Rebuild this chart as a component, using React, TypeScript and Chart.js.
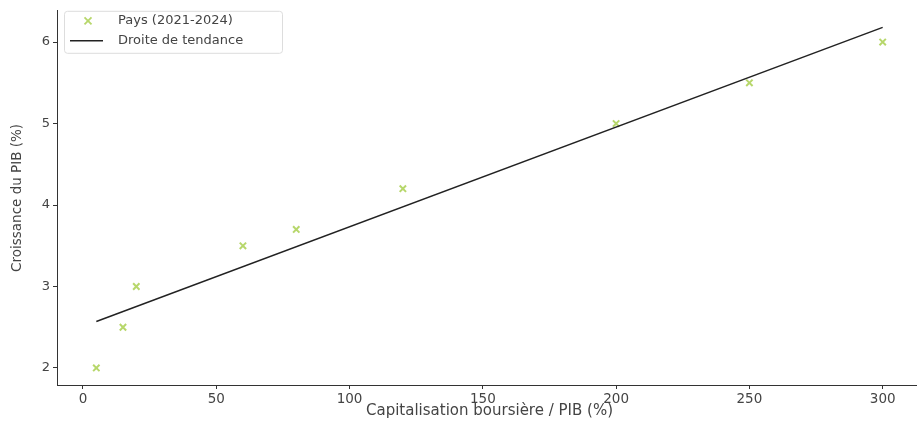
import React, { useEffect, useRef } from 'react';
import { Chart, registerables } from 'chart.js';

Chart.register(...registerables);

// ---- data ----
const pointsX = [5, 15, 20, 60, 80, 120, 200, 250, 300];
const pointsY = [2.0, 2.5, 3.0, 3.5, 3.7, 4.2, 5.0, 5.5, 6.0];
const trendX = [5, 300];
const trendY = [2.57, 6.18];
const xTicks = [0, 50, 100, 150, 200, 250, 300];
const yTicks = [2, 3, 4, 5, 6];
const seriesLabels = ['Pays (2021-2024)', 'Droite de tendance'];
const xTitle = 'Capitalisation boursière / PIB (%)';
const yTitle = 'Croissance du PIB (%)';

const FONT = "'DejaVu Sans', sans-serif";
const MARKER = 'rgba(165, 205, 70, 0.8)';
const LINE = '#222222';
const TEXT = '#444444';
const SPINE = '#333333';

const legendPlugin = {
  id: 'mplLegend',
  afterDraw(chart: any) {
    const { ctx, chartArea } = chart;
    const ds = chart.data.datasets;
    const x0 = chartArea.left + 7;
    const y0 = chartArea.top + 0;
    const w = 218;
    const h = 42;
    ctx.save();
    ctx.beginPath();
    ctx.roundRect(x0 + 0.5, y0 + 0.5, w, h, 3);
    ctx.fillStyle = 'rgba(255,255,255,0.8)';
    ctx.fill();
    ctx.strokeStyle = '#dddddd';
    ctx.lineWidth = 1;
    ctx.stroke();

    // row 1 : marker
    const r1 = y0 + 10;
    const mx = x0 + 24;
    ctx.strokeStyle = ds[0].borderColor;
    ctx.lineWidth = 1.8;
    const s = 3.5;
    ctx.beginPath();
    ctx.moveTo(mx - s, r1 - s);
    ctx.lineTo(mx + s, r1 + s);
    ctx.moveTo(mx - s, r1 + s);
    ctx.lineTo(mx + s, r1 - s);
    ctx.stroke();

    // row 2 : line
    const r2 = y0 + 30;
    ctx.strokeStyle = ds[1].borderColor;
    ctx.lineWidth = 1.5;
    ctx.beginPath();
    ctx.moveTo(x0 + 6, r2);
    ctx.lineTo(x0 + 39, r2);
    ctx.stroke();

    ctx.fillStyle = TEXT;
    ctx.font = `13px ${FONT}`;
    ctx.textBaseline = 'middle';
    ctx.textAlign = 'left';
    ctx.fillText(ds[0].label, x0 + 54, r1);
    ctx.fillText(ds[1].label, x0 + 54, r2);
    ctx.restore();
  },
};

export default function App() {
  const ref = useRef<HTMLCanvasElement | null>(null);

  useEffect(() => {
    document.body.style.margin = '0';
    document.documentElement.style.overflow = 'hidden';
    const canvas = ref.current!;
    const chart = new Chart(canvas, {
      type: 'scatter',
      data: {
        datasets: [
          {
            type: 'scatter',
            label: seriesLabels[0],
            data: pointsX.map((x, i) => ({ x, y: pointsY[i] })),
            pointStyle: 'crossRot',
            pointRadius: 4.5,
            pointBorderWidth: 2,
            borderColor: MARKER,
            backgroundColor: MARKER,
            order: 1,
          },
          {
            type: 'line',
            label: seriesLabels[1],
            data: trendX.map((x, i) => ({ x, y: trendY[i] })),
            borderColor: LINE,
            borderWidth: 1.5,
            pointRadius: 0,
            fill: false,
            tension: 0,
            order: 0,
          },
        ],
      },
      options: {
        responsive: false,
        animation: false,
        devicePixelRatio: 1,
        layout: { padding: { top: 9.6, right: 8, left: 0, bottom: 0 } },
        plugins: {
          legend: { display: false },
          tooltip: { enabled: false },
        },
        scales: {
          x: {
            type: 'linear',
            min: -9.75,
            max: 314.75,
            afterBuildTicks: (s: any) => {
              s.ticks = xTicks.map((v) => ({ value: v }));
            },
            afterFit: (s: any) => {
              s.height = 36;
            },
            ticks: {
              color: TEXT,
              font: { family: FONT, size: 13.5 },
              padding: 2,
              maxRotation: 0,
            },
            grid: {
              display: true,
              drawOnChartArea: false,
              drawTicks: true,
              tickLength: 4,
              tickColor: SPINE,
              tickWidth: 1,
            },
            border: { display: true, color: SPINE, width: 1 },
            title: {
              display: true,
              text: xTitle,
              color: TEXT,
              font: { family: FONT, size: 15 },
              padding: { top: 0, bottom: 1 },
            },
          },
          y: {
            type: 'linear',
            min: 1.791,
            max: 6.384,
            afterBuildTicks: (s: any) => {
              s.ticks = yTicks.map((v) => ({ value: v }));
            },
            afterFit: (s: any) => {
              s.width = 57;
            },
            ticks: {
              color: TEXT,
              font: { family: FONT, size: 13 },
              padding: 3,
            },
            grid: {
              display: true,
              drawOnChartArea: false,
              drawTicks: true,
              tickLength: 4,
              tickColor: SPINE,
              tickWidth: 1,
            },
            border: { display: true, color: SPINE, width: 1 },
            title: {
              display: true,
              text: yTitle,
              color: TEXT,
              font: { family: FONT, size: 13.5 },
              padding: { top: 9, bottom: 0 },
            },
          },
        },
      },
      plugins: [legendPlugin],
    });
    return () => chart.destroy();
  }, []);

  return (
    <div style={{ position: 'fixed', left: 0, top: 0, width: 930, height: 421, background: '#fff' }}>
      <canvas ref={ref} width={930} height={421} style={{ display: 'block' }} />
    </div>
  );
}
